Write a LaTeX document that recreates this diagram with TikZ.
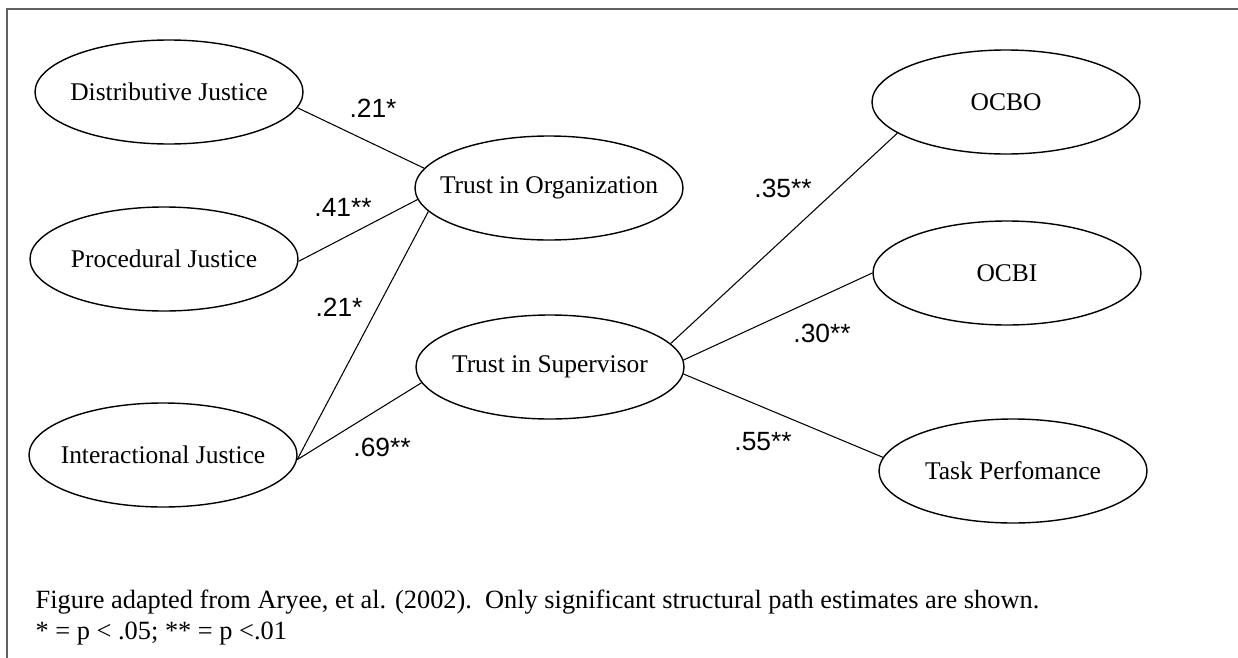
\documentclass[tikz,border=0pt]{standalone}
\usepackage{fontspec}
\setmainfont{Liberation Serif}
\newfontfamily\pesofont{Liberation Sans}
\usepackage{tikz}
\usetikzlibrary{shapes.geometric}
\definecolor{gray700}{HTML}{616161}
\tikzstyle{fator}=[ellipse, draw=black, minimum width=5.36cm, minimum height=2.08cm, inner xsep=-0.6cm, inner ysep=0pt, font=\fontsize{14.5}{17}\selectfont]
\tikzstyle{peso}=[inner sep=0pt, font=\pesofont\fontsize{15}{18}\selectfont]
\tikzstyle{legenda}=[anchor=west, inner sep=0pt, font=\fontsize{15}{18}\selectfont]

\begin{document}
\begin{tikzpicture}[thick]
			\useasboundingbox (0,0) rectangle (24.76,-13.16);
			\draw[gray700, line width=0.6pt] (0.14,-13.16) -- (0.14,-0.18) -- (24.76,-0.18);
			\node[fator] (dj) at (3.38,-1.84) {Distributive Justice};
			\node[fator] (pj) at (3.28,-5.18) {Procedural Justice};
			\node[fator] (ij) at (3.26,-9.10) {Interactional Justice};
			\node[fator] (tio) at (10.98,-3.76) {Trust in Organization};
			\node[fator] (tis) at (11.00,-7.34) {Trust in Supervisor};
			\node[fator] (ocbo) at (20.12,-2.04) {OCBO};
			\node[fator] (ocbi) at (20.14,-5.46) {OCBI};
			\node[fator] (tp) at (20.26,-9.42) {Task Perfomance};
			\path[draw=black, semithick] (dj.-7)--(tio.171) (pj.-1)--(tio.185) (ij.-2)--(tio.191) (ij.-2)--(tis.187) (tis.11)--(ocbo.196) (tis.3)--(ocbi.180) (tis.-3)--(tp.174);
			\node[peso] (w1) at (7.46,-2.16) {.21*};
			\node[peso] (w2) at (6.86,-4.14) {.41**};
			\node[peso] (w3) at (6.78,-6.14) {.21*};
			\node[peso] (w4) at (7.64,-8.94) {.69**};
			\node[peso] (w5) at (15.66,-3.76) {.35**};
			\node[peso] (w6) at (16.44,-6.66) {.30**};
			\node[peso] (w7) at (15.26,-8.84) {.55**};
			\node[legenda] (nota1) at (0.70,-12.04) {Figure adapted from Aryee, et al. (2002).\ \ Only significant structural path estimates are shown.};
			\node[legenda] (nota2) at (0.70,-12.68) {* = p < .05; ** = p <.01};
		\end{tikzpicture}
\end{document}
